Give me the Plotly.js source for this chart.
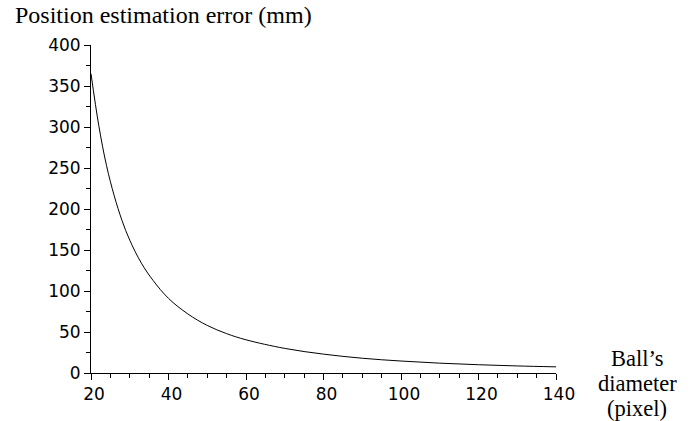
<!DOCTYPE html>
<html>
<head>
<meta charset="utf-8">
<script src="https://cdn.plot.ly/plotly-3.0.1.min.js"></script>
<style>html,body{margin:0;padding:0;background:#fff}#chart{width:698px;height:421px}</style>
</head>
<body>
<div id="chart"></div>
<script>
// Ball diameter (pixel) and position estimation error (mm)
var diameter = [20, 22, 24, 26, 28, 30, 33, 36, 40, 45, 50, 55, 60, 70, 80, 90, 100, 110, 120, 130, 140];
var errorMm  = [365, 302, 253, 216, 186, 162, 134, 113, 91, 72, 58, 48, 40.5, 30, 23, 18, 14.6, 12, 10.1, 8.6, 7.5];
var xTicks = [20, 40, 60, 80, 100, 120, 140];
var yTicks = [0, 50, 100, 150, 200, 250, 300, 350, 400];
var xTitleLines = ['Ball\u2019s', 'diameter', '(pixel)'];
var yTitleText = 'Position estimation error (mm)';

var serif = '"Liberation Serif", "Times New Roman", Times, serif';
var sans = '"DejaVu Sans", "Liberation Sans", Arial, sans-serif';

var trace = {
  x: diameter, y: errorMm, type: 'scatter', mode: 'lines',
  line: {color: '#000', width: 1, shape: 'spline', smoothing: 1.0},
  hoverinfo: 'skip'
};

var L = 91, R = 556, T = 45, B = 373, W = 698, H = 421;
function px2paperX(px) { return (px - L) / (R - L); }
function px2paperY(py) { return (B - py) / (B - T); }

var titleCenters = [358, 383, 408];
var annotations = xTitleLines.map(function (s, i) {
  return {
    text: s, xref: 'paper', yref: 'paper',
    x: px2paperX(637), y: px2paperY(titleCenters[i]),
    xanchor: 'center', yanchor: 'middle', showarrow: false,
    font: {family: serif, size: 22.5, color: '#000'}
  };
});
annotations.push({
  text: yTitleText, xref: 'paper', yref: 'paper',
  x: px2paperX(13), y: px2paperY(15),
  xanchor: 'left', yanchor: 'middle', showarrow: false,
  font: {family: serif, size: 24, color: '#000'}
});

var layout = {
  width: W, height: H,
  margin: {l: L, r: W - R, t: T, b: H - B},
  paper_bgcolor: '#fff', plot_bgcolor: '#fff',
  showlegend: false,
  font: {family: sans, size: 17, color: '#000'},
  xaxis: {
    range: [20, 140], tickvals: xTicks, ticktext: xTicks.map(String),
    showgrid: false, zeroline: false, showline: true, linecolor: '#000', linewidth: 1,
    ticks: 'outside', ticklen: 6, tickcolor: '#000', tickwidth: 1,
    minor: {dtick: 5, ticks: 'outside', ticklen: 4, tickcolor: '#000', showgrid: false},
    ticklabelshift: 3,
    tickfont: {family: sans, size: 17, color: '#000'}
  },
  yaxis: {
    range: [0, 400], tickvals: yTicks, ticktext: yTicks.map(String),
    showgrid: false, zeroline: false, showline: true, linecolor: '#000', linewidth: 1,
    ticks: 'outside', ticklen: 6, tickcolor: '#000', tickwidth: 1,
    minor: {dtick: 25, ticks: 'outside', ticklen: 4, tickcolor: '#000', showgrid: false},
    tickfont: {family: sans, size: 17, color: '#000'}
  },
  annotations: annotations
};

Plotly.newPlot('chart', [trace], layout, {staticPlot: true, displayModeBar: false});
</script>
</body>
</html>
